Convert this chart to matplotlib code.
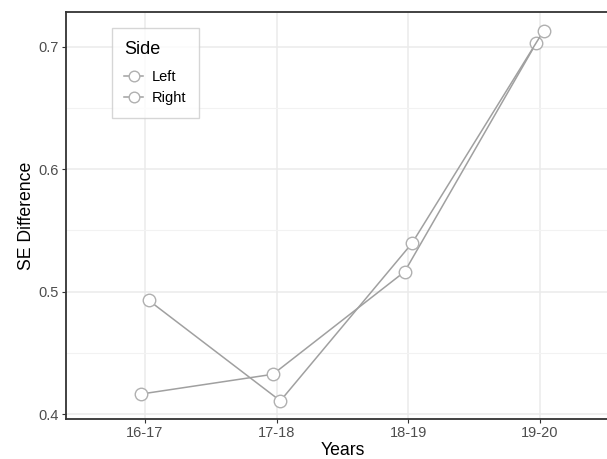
import matplotlib.pyplot as plt
import numpy as np

plt.rcParams['font.family'] = ['Liberation Sans', 'DejaVu Sans']

# data
years = ['16-17', '17-18', '18-19', '19-20']
left = [0.4166, 0.4327, 0.5164, 0.703]
right = [0.493, 0.411, 0.5396, 0.713]
dodge = 0.028

x = np.arange(1, len(years) + 1)

fig = plt.figure(figsize=(6.07, 4.59), dpi=100)
ax = fig.add_axes([66/607, 40/459, 553/607, 406.7/459])

line_col = '#a0a0a0'
for vals, off, lab in [(left, -dodge, 'Left'), (right, dodge, 'Right')]:
    ax.plot(x + off, vals, color=line_col, lw=1.1, marker='o', ms=9,
            mfc='white', mec='#b0b0b0', mew=1.0, label=lab, zorder=3)

ax.set_xlim(0.4, 4.6)
ax.set_ylim(0.3962, 0.728)
ax.set_xticks(x)
ax.set_xticklabels(years)
ax.set_yticks([0.4, 0.5, 0.6, 0.7])
ax.set_yticks([0.45, 0.55, 0.65], minor=True)

ax.grid(which='major', color='#ebebeb', lw=1.1)
ax.grid(which='minor', axis='y', color='#f2f2f2', lw=0.8)
ax.set_axisbelow(True)

for s in ax.spines.values():
    s.set_color('#333333')
    s.set_linewidth(1.3)

ax.tick_params(axis='both', which='major', direction='out', length=3,
               color='#333333', labelsize=10.5, labelcolor='#4d4d4d', pad=2)
ax.tick_params(axis='both', which='minor', length=0)

ax.set_xlabel('Years', fontsize=12.7, labelpad=1.5)
ax.set_ylabel('SE Difference', fontsize=12.7, labelpad=3)

leg = ax.legend(title='Side', loc='upper left', bbox_to_anchor=(0.083, 0.961),
                borderaxespad=0, frameon=True, fancybox=False, fontsize=10.5,
                title_fontsize=13, alignment='left', handlelength=1.3,
                handletextpad=0.6, borderpad=0.85, labelspacing=0.5,
                markerscale=0.85)
leg._legend_box.sep = 9  # a bit more room under the title
leg.get_frame().set_edgecolor('#cccccc')
leg.get_frame().set_linewidth(1.0)

fig.savefig('out.png', dpi=100)
